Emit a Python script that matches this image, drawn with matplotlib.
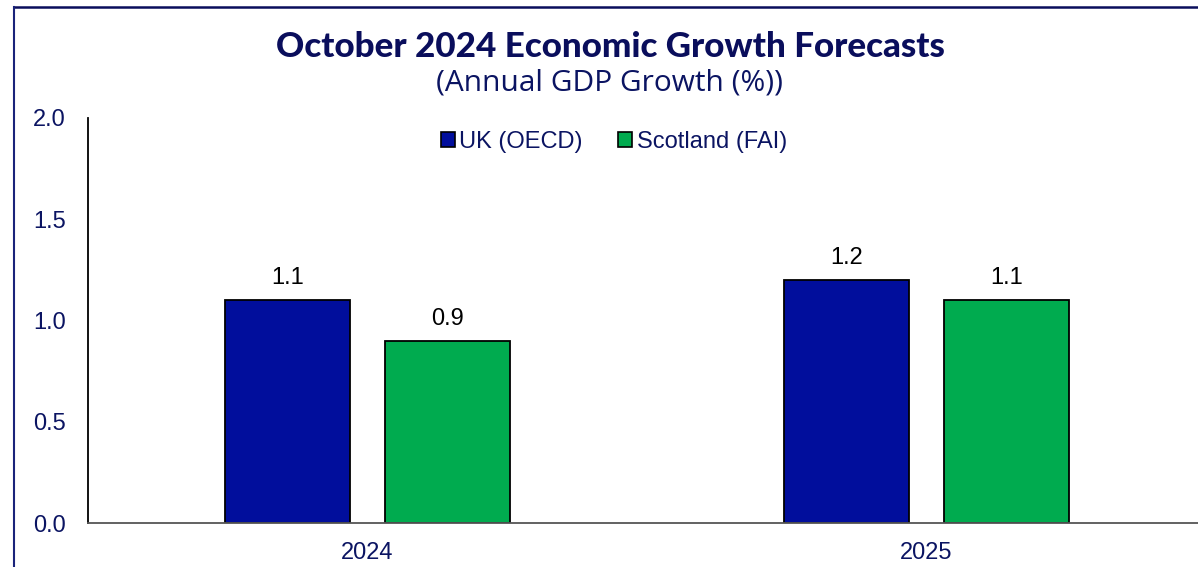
import matplotlib
matplotlib.use("Agg")
import matplotlib.pyplot as plt
import numpy as np
from matplotlib.lines import Line2D
from matplotlib.patches import Patch

categories = ["2024", "2025"]
uk_oecd = [1.1, 1.2]
scotland_fai = [0.9, 1.1]
series_names = ["UK (OECD)", "Scotland (FAI)"]
yticks = [0.0, 0.5, 1.0, 1.5, 2.0]

W, H = 1198, 567
fig = plt.figure(figsize=(W / 100, H / 100), dpi=100)
navy = "#0b1462"
blue = "#010e9c"
green = "#00ab4f"

ax = fig.add_axes([88 / W, (H - 523) / H, 2 * 559 / W, (523 - 118) / H])
x = np.arange(len(categories))
bw = 0.224
off = 0.143
b1 = ax.bar(x - off, uk_oecd, bw, color=blue, edgecolor="black", linewidth=1.3)
b2 = ax.bar(x + off, scotland_fai, bw, color=green, edgecolor="black", linewidth=1.3)
for bars, vals in ((b1, uk_oecd), (b2, scotland_fai)):
    for r, v in zip(bars, vals):
        ax.annotate(f"{v:.1f}", (r.get_x() + r.get_width() / 2, v), xytext=(0, 8),
                    textcoords="offset points", ha="center", va="bottom",
                    fontsize=17, family="Liberation Sans", color="black")

ax.set_xlim(-0.5, 1.5)
ax.set_ylim(0, 2.0)
ax.set_yticks(yticks)
ax.set_yticklabels([f"{t:.1f}" for t in yticks])
ax.set_xticks(x)
ax.set_xticklabels(categories)
for lab in ax.get_yticklabels() + ax.get_xticklabels():
    lab.set_fontfamily("Liberation Sans")
    lab.set_fontsize(17)
    lab.set_color(navy)
ax.tick_params(axis="y", length=0, pad=16)
ax.tick_params(axis="x", length=0, pad=14)
ax.spines["top"].set_visible(False)
ax.spines["right"].set_visible(False)
ax.spines["left"].set_color("black")
ax.spines["left"].set_linewidth(1.3)
ax.spines["bottom"].set_color("#555555")
ax.spines["bottom"].set_linewidth(1.3)

handles = [Patch(facecolor=blue, edgecolor="black", linewidth=1.2),
           Patch(facecolor=green, edgecolor="black", linewidth=1.2)]
leg = fig.legend(handles, series_names, loc="center", bbox_to_anchor=(614 / W, 1 - 142 / H),
                 ncol=2, frameon=False, handlelength=0.6, handleheight=0.6,
                 handletextpad=0.2, columnspacing=1.5,
                 prop={"family": "Liberation Sans", "size": 17})
for t in leg.get_texts():
    t.set_color(navy)

fig.text(610 / W, 1 - 47 / H, "October 2024 Economic Growth Forecasts", ha="center", va="center",
         fontsize=25.2, fontweight="black", family="Lato", color="#0a0e5c")
fig.text(610 / W, 1 - 83 / H, "(Annual GDP Growth (%))", ha="center", va="center",
         fontsize=21.5, family="Open Sans", color=navy)

fig.add_artist(Line2D([13.5 / W, 1.0], [1 - 6.5 / H, 1 - 6.5 / H], transform=fig.transFigure,
                      color="#0a0e5c", linewidth=1.8))
fig.add_artist(Line2D([13.5 / W, 13.5 / W], [0, 1 - 6.5 / H], transform=fig.transFigure,
                      color="#1a237a", linewidth=1.5))

fig.savefig("out.png", dpi=100)
